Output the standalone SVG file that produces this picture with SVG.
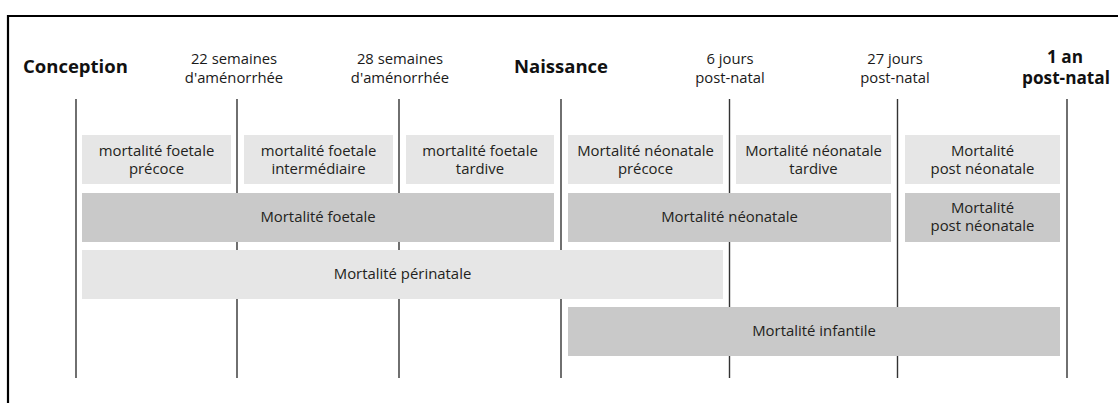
<svg xmlns="http://www.w3.org/2000/svg" width="1118" height="403" viewBox="0 0 1118 403">
<style>
  .frame{fill:none;stroke:#000;stroke-width:2.2}
  .tick{stroke:#333;stroke-width:1.4}
  .light{fill:#e6e6e6}
  .dark{fill:#c9c9c9}
  .hd{font-family:"Open Sans","Noto Sans",sans-serif;font-size:14.8px;fill:#1a1a1a;text-anchor:middle}
  .hb{font-family:"Open Sans","Noto Sans",sans-serif;font-size:18.5px;font-weight:bold;fill:#111;text-anchor:middle}
  .hb2{font-family:"Open Sans","Noto Sans",sans-serif;font-size:17.2px;font-weight:bold;fill:#111;text-anchor:middle}
  .bx{font-family:"Open Sans","Noto Sans",sans-serif;font-size:14.9px;fill:#231f20;text-anchor:middle}
</style>
<rect width="1118" height="403" fill="#fff"/>
<path class="frame" d="M8,403 V16 H1118"/>

<g id="connectors">
  <line class="tick" x1="76" y1="99" x2="76" y2="378"/>
  <line class="tick" x1="237" y1="99" x2="237" y2="378"/>
  <line class="tick" x1="399" y1="99" x2="399" y2="378"/>
  <line class="tick" x1="561" y1="99" x2="561" y2="378"/>
  <line class="tick" x1="729.5" y1="99" x2="729.5" y2="378"/>
  <line class="tick" x1="897.5" y1="99" x2="897.5" y2="378"/>
  <line class="tick" x1="1067" y1="99" x2="1067" y2="378"/>
</g>

<g id="label-conception"><text class="hb" x="23" y="73" style="text-anchor:start">Conception</text></g>
<g id="label-22sa"><text class="hd" x="234" y="64">22 semaines</text><text class="hd" x="234" y="83">d'aménorrhée</text></g>
<g id="label-28sa"><text class="hd" x="400" y="64">28 semaines</text><text class="hd" x="400" y="83">d'aménorrhée</text></g>
<g id="label-naissance"><text class="hb" x="561" y="73">Naissance</text></g>
<g id="label-6j"><text class="hd" x="730" y="64">6 jours</text><text class="hd" x="730" y="83">post-natal</text></g>
<g id="label-27j"><text class="hd" x="895" y="64">27 jours</text><text class="hd" x="895" y="83">post-natal</text></g>
<g id="label-1an"><text class="hb2" x="1065" y="63">1 an</text><text class="hb2" x="1066" y="84">post-natal</text></g>

<g id="foetale-precoce"><rect class="light" x="82" y="135" width="149" height="49"/><text class="bx" x="156.5" y="156">mortalité foetale</text><text class="bx" x="156.5" y="174">précoce</text></g>
<g id="foetale-intermediaire"><rect class="light" x="244" y="135" width="149" height="49"/><text class="bx" x="318.5" y="156">mortalité foetale</text><text class="bx" x="318.5" y="174">intermédiaire</text></g>
<g id="foetale-tardive"><rect class="light" x="406" y="135" width="148" height="49"/><text class="bx" x="480" y="156">mortalité foetale</text><text class="bx" x="480" y="174">tardive</text></g>
<g id="neonatale-precoce"><rect class="light" x="568" y="135" width="155" height="49"/><text class="bx" x="645.5" y="156">Mortalité néonatale</text><text class="bx" x="645.5" y="174">précoce</text></g>
<g id="neonatale-tardive"><rect class="light" x="736" y="135" width="155" height="49"/><text class="bx" x="813.5" y="156">Mortalité néonatale</text><text class="bx" x="813.5" y="174">tardive</text></g>
<g id="post-neonatale-1"><rect class="light" x="905" y="135" width="155" height="49"/><text class="bx" x="982.5" y="156">Mortalité</text><text class="bx" x="982.5" y="174">post néonatale</text></g>

<g id="foetale"><rect class="dark" x="82" y="193" width="472" height="49"/><text class="bx" x="318" y="222">Mortalité foetale</text></g>
<g id="neonatale"><rect class="dark" x="568" y="193" width="323" height="49"/><text class="bx" x="729.5" y="222">Mortalité néonatale</text></g>
<g id="post-neonatale-2"><rect class="dark" x="905" y="193" width="155" height="49"/><text class="bx" x="982.5" y="213">Mortalité</text><text class="bx" x="982.5" y="231">post néonatale</text></g>

<g id="perinatale"><rect class="light" x="82" y="250" width="641" height="49"/><text class="bx" x="402.5" y="279">Mortalité périnatale</text></g>
<g id="infantile"><rect class="dark" x="568" y="307" width="492" height="49"/><text class="bx" x="814" y="336">Mortalité infantile</text></g>
</svg>
